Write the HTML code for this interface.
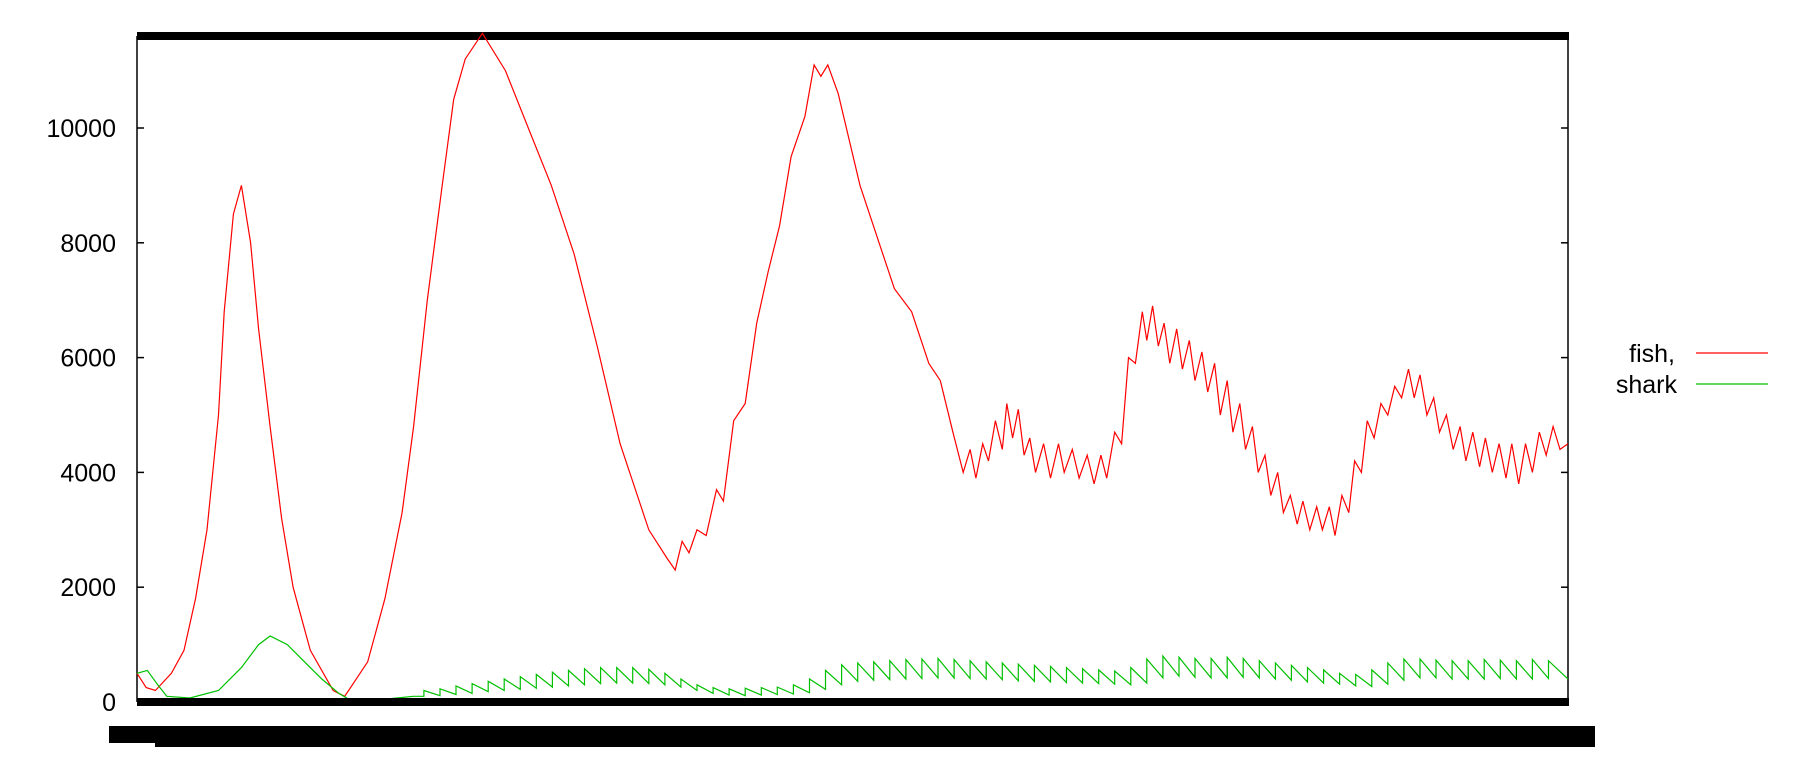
<!DOCTYPE html>
<html><head><meta charset="utf-8"><style>
html,body{margin:0;padding:0;background:#fff;width:1800px;height:768px;overflow:hidden}
svg text{font-family:"Liberation Sans",sans-serif;font-size:25px;fill:#000}
</style></head><body>
<svg id="chart" width="1800" height="768" xmlns="http://www.w3.org/2000/svg"></svg>
<script>
const fishT=[0,8,16,30,41,51,61,71,76,84,91,99,106,116,126,136,151,171,181,201,216,231,241,253,266,276,286,301,321,341,361,381,401,421,446,462,469,475,481,488,496,505,511,520,530,540,550,560,570,582,590,596,602,611,630,650,660,675,690,700,711,720,726,731,737,742,748,754,758,763,768,773,778,783,790,796,803,808,815,821,828,834,840,845,852,858,864,870,876,880,885,890,895,900,906,911,917,922,928,933,939,944,950,955,961,966,972,977,983,988,994,999,1005,1011,1016,1022,1028,1033,1039,1044,1050,1056,1061,1067,1072,1078,1084,1090,1096,1102,1108,1113,1118,1124,1130,1135,1141,1147,1153,1158,1164,1170,1175,1181,1187,1193,1198,1204,1210,1216,1222,1228,1234,1240,1247];
const fishV=[500,250,200,500,900,1800,3000,5000,6800,8500,9000,8000,6500,4800,3200,2000,900,200,100,700,1800,3300,4800,7000,9000,10500,11200,11650,11000,10000,9000,7800,6200,4500,3000,2500,2300,2800,2600,3000,2900,3700,3500,4900,5200,6600,7500,8300,9500,10200,11100,10900,11100,10600,9000,7800,7200,6800,5900,5600,4700,4000,4400,3900,4500,4200,4900,4400,5200,4600,5100,4300,4600,4000,4500,3900,4500,4000,4400,3900,4300,3800,4300,3900,4700,4500,6000,5900,6800,6300,6900,6200,6600,5900,6500,5800,6300,5600,6100,5400,5900,5000,5600,4700,5200,4400,4800,4000,4300,3600,4000,3300,3600,3100,3500,3000,3400,3000,3400,2900,3600,3300,4200,4000,4900,4600,5200,5000,5500,5300,5800,5300,5700,5000,5300,4700,5000,4400,4800,4200,4700,4100,4600,4000,4500,3900,4500,3800,4500,4000,4700,4300,4800,4400,4500];
const sharkStartT=[0,9,18,26,46,71,91,106,116,131,146,161,176,186,221,241];
const sharkStartV=[500,550,300,100,70,200,600,1000,1150,1000,700,400,150,30,60,100];
const toothT=[250,264,278,292,306,320,334,348,362,376,390,404,418,432,446,460,474,488,502,516,530,544,558,572,586,600,614,628,642,656,670,684,698,712,726,740,754,768,782,796,810,824,838,852,866,880,894,908,922,936,950,964,978,992,1006,1020,1034,1048,1062,1076,1090,1104,1118,1132,1146,1160,1174,1188,1202,1216,1230];
const toothPeak=[200,230,280,320,360,400,440,480,520,550,580,600,600,600,570,500,400,300,250,230,240,250,260,300,400,550,650,680,700,720,740,750,760,740,720,700,680,660,640,620,600,580,560,540,600,750,800,780,760,760,780,760,720,680,640,600,560,500,480,560,680,750,750,730,720,720,740,730,720,740,720];
const toothLow=[110,130,150,180,200,220,240,260,280,300,320,330,330,320,300,260,200,150,120,110,120,130,140,160,220,300,360,380,390,400,410,420,420,410,400,390,370,360,350,340,330,320,310,300,330,420,450,430,420,420,430,420,400,380,350,330,310,280,270,310,380,420,420,400,400,400,410,400,400,410,400];
const yTicks=[0,2000,4000,6000,8000,10000];
const X0=137,X1=1568,TMAX=1247,Y0=702,PX=0.0574;
const sx=t=>X0+(t/TMAX)*(X1-X0);
const sy=v=>Y0-v*PX;
const svg=document.getElementById('chart');
const NS='http://www.w3.org/2000/svg';
function mk(tag,attrs){const e=document.createElementNS(NS,tag);for(const k in attrs)e.setAttribute(k,attrs[k]);svg.appendChild(e);return e;}
let a=mk('line',{x1:X0,y1:36,x2:X0,y2:Y0,stroke:'#000','stroke-width':1.5});

a=mk('line',{x1:X1,y1:36,x2:X1,y2:Y0,stroke:'#000','stroke-width':1.5});

a=mk('rect',{x:X0,y:32,width:X1-X0+1,height:8,fill:'#000'});

yTicks.forEach(v=>{
 let t=mk('line',{x1:X0,y1:sy(v),x2:X0+7,y2:sy(v),stroke:'#000','stroke-width':1.5});
 
 t=mk('line',{x1:X1-7,y1:sy(v),x2:X1,y2:sy(v),stroke:'#000','stroke-width':1.5});
 
 const l=mk('text',{x:116,y:sy(v)+9,'text-anchor':'end'});l.textContent=v;
 
});
let fp=fishT.map((t,i)=>sx(t).toFixed(1)+','+sy(fishV[i]).toFixed(1)).join(' ');
a=mk('polyline',{points:fp,fill:'none',stroke:'#ff0000','stroke-width':1.2});

let sp=sharkStartT.map((t,i)=>sx(t).toFixed(1)+','+sy(sharkStartV[i]).toFixed(1));
toothT.forEach((t,i)=>{
 const prevLow=i>0?toothLow[i-1]:100;
 sp.push(sx(t).toFixed(1)+','+sy(prevLow).toFixed(1));
 sp.push(sx(t).toFixed(1)+','+sy(toothPeak[i]).toFixed(1));
});
sp.push(sx(TMAX).toFixed(1)+','+sy(toothLow[toothLow.length-1]).toFixed(1));
a=mk('polyline',{points:sp.join(' '),fill:'none',stroke:'#00c000','stroke-width':1.2});

a=mk('rect',{x:X0,y:698,width:X1-X0+1,height:8,fill:'#000'});

a=mk('rect',{x:109,y:726,width:1486,height:17,fill:'#000'});

a=mk('rect',{x:155,y:743,width:1440,height:4,fill:'#000'});

a=mk('text',{x:1675,y:362,'text-anchor':'end'});a.textContent='fish,';

a=mk('line',{x1:1696,y1:353,x2:1768,y2:353,stroke:'#ff0000','stroke-width':1.2});

a=mk('text',{x:1677,y:393,'text-anchor':'end'});a.textContent='shark';

a=mk('line',{x1:1696,y1:384,x2:1768,y2:384,stroke:'#00c000','stroke-width':1.2});

</script>
</body></html>
